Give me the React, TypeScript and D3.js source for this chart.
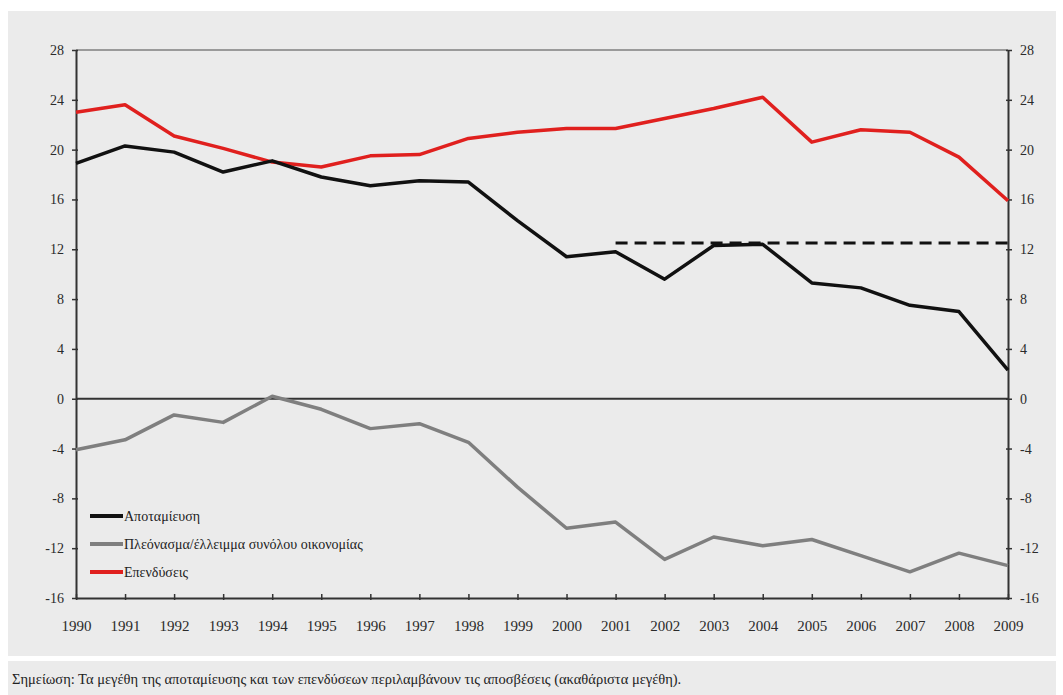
import React, { useEffect, useRef } from 'react';
import * as d3 from 'd3';

const years = [1990, 1991, 1992, 1993, 1994, 1995, 1996, 1997, 1998, 1999, 2000, 2001, 2002, 2003, 2004, 2005, 2006, 2007, 2008, 2009];

// Αποταμίευση (black)
const savings = [18.9, 20.3, 19.8, 18.2, 19.1, 17.8, 17.1, 17.5, 17.4, 14.3, 11.4, 11.8, 9.6, 12.3, 12.4, 9.3, 8.9, 7.5, 7.0, 2.3];
// Επενδύσεις (red)
const investment = [23.0, 23.6, 21.1, 20.1, 19.0, 18.6, 19.5, 19.6, 20.9, 21.4, 21.7, 21.7, 22.5, 23.3, 24.2, 20.6, 21.6, 21.4, 19.4, 15.9];
// Πλεόνασμα/έλλειμμα συνόλου οικονομίας (gray)
const balance = [-4.1, -3.3, -1.3, -1.9, 0.2, -0.85, -2.4, -2.0, -3.5, -7.1, -10.4, -9.9, -12.9, -11.1, -11.8, -11.3, -12.6, -13.9, -12.4, -13.4];

// dashed reference level (2001–2009)
const refYears = [2001, 2009];
const refValue = 12.5;

const yTicks = [28, 24, 20, 16, 12, 8, 4, 0, -4, -8, -12, -16];

const legendItems = [
  { label: 'Αποταμίευση', color: '#111111' },
  { label: 'Πλεόνασμα/έλλειμμα συνόλου οικονομίας', color: '#7f7f7f' },
  { label: 'Επενδύσεις', color: '#e0201e' },
];

const noteText = 'Σημείωση: Τα μεγέθη της αποταμίευσης και των επενδύσεων περιλαμβάνουν τις αποσβέσεις (ακαθάριστα μεγέθη).';

const W = 1063;
const H = 695;
const FONT = "'Liberation Serif', 'Times New Roman', 'DejaVu Serif', serif";

export default function App() {
  const svgRef = useRef<SVGSVGElement>(null);

  useEffect(() => {
    const svg = d3.select(svgRef.current);
    svg.selectAll('*').remove();

    const left = 76, right = 1008, top = 50, bottom = 598;
    const x = d3.scaleLinear().domain([1990, 2009]).range([left, right]);
    const y = d3.scaleLinear().domain([-16, 28]).range([bottom, top]);
    const fmt = (d: d3.NumberValue) => String(d);

    // panels
    svg.append('rect').attr('width', W).attr('height', H).attr('fill', '#ffffff');
    svg.append('rect').attr('x', 8).attr('y', 11).attr('width', 1048).attr('height', 645).attr('fill', '#ebebeb');
    svg.append('rect').attr('x', 8).attr('y', 661).attr('width', 1048).attr('height', 34).attr('fill', '#ebebeb');

    // top border
    svg.append('line')
      .attr('x1', left).attr('x2', right).attr('y1', top).attr('y2', top)
      .attr('stroke', '#9a9a9a').attr('stroke-width', 2);

    // zero line
    svg.append('line')
      .attr('x1', left).attr('x2', right).attr('y1', y(0)).attr('y2', y(0))
      .attr('stroke', '#333').attr('stroke-width', 2);

    const styleAxis = (g: d3.Selection<SVGGElement, unknown, null, undefined>) => {
      g.attr('font-family', null).attr('font-size', null);
      g.select('.domain').attr('stroke', '#333').attr('stroke-width', 2);
      g.selectAll('.tick line').attr('stroke', '#333').attr('stroke-width', 1.5);
      g.selectAll('.tick text').attr('fill', '#2a2a2a').style('font-family', FONT).style('font-size', '14px');
    };

    const leftAxis = svg.append('g')
      .attr('transform', `translate(${left},0)`)
      .call(d3.axisLeft(y).tickValues(yTicks).tickSize(5).tickPadding(7).tickSizeOuter(0).tickFormat(fmt));
    leftAxis.selectAll('.tick line').attr('x2', -4).attr('x1', 2);
    styleAxis(leftAxis);

    const rightAxis = svg.append('g')
      .attr('transform', `translate(${right},0)`)
      .call(d3.axisRight(y).tickValues(yTicks).tickSize(5).tickPadding(7).tickSizeOuter(0).tickFormat(fmt));
    rightAxis.selectAll('.tick line').attr('x1', -2).attr('x2', 4);
    styleAxis(rightAxis);

    const bottomAxis = svg.append('g')
      .attr('transform', `translate(0,${bottom})`)
      .call(d3.axisBottom(x).tickValues(years).tickSize(5).tickPadding(17).tickSizeOuter(0).tickFormat(fmt));
    bottomAxis.selectAll('.tick line').attr('y1', -4).attr('y2', 2);
    styleAxis(bottomAxis);
    bottomAxis.selectAll('.tick text').style('font-size', '15px');

    const line = d3.line<number>()
      .x((_, i) => x(years[i]))
      .y((d) => y(d));

    svg.append('path').datum(balance).attr('d', line)
      .attr('fill', 'none').attr('stroke', '#7f7f7f').attr('stroke-width', 3.5).attr('stroke-linejoin', 'round');
    svg.append('path').datum(investment).attr('d', line)
      .attr('fill', 'none').attr('stroke', '#e0201e').attr('stroke-width', 3.5).attr('stroke-linejoin', 'round');
    svg.append('path').datum(savings).attr('d', line)
      .attr('fill', 'none').attr('stroke', '#111111').attr('stroke-width', 3.5).attr('stroke-linejoin', 'round');

    // dashed level
    svg.append('line')
      .attr('x1', x(refYears[0])).attr('x2', x(refYears[1]))
      .attr('y1', y(refValue)).attr('y2', y(refValue))
      .attr('stroke', '#111').attr('stroke-width', 3).attr('stroke-dasharray', '12,7');

    // legend
    const legend = svg.append('g').attr('transform', 'translate(90,516)');
    legendItems.forEach((item, i) => {
      const g = legend.append('g').attr('transform', `translate(0,${i * 28})`);
      g.append('line').attr('x1', 0).attr('x2', 33).attr('y1', 0).attr('y2', 0)
        .attr('stroke', item.color).attr('stroke-width', 4);
      g.append('text').attr('x', 34).attr('y', 0).attr('dy', '0.35em')
        .style('font-family', FONT).style('font-size', '14px').attr('fill', '#222')
        .text(item.label);
    });

    // note
    svg.append('text')
      .attr('x', 12).attr('y', 684)
      .style('font-family', FONT).style('font-size', '14.5px').attr('fill', '#222')
      .text(noteText);
  }, []);

  return (
    <svg
      ref={svgRef}
      width={W}
      height={H}
      style={{ position: 'absolute', left: 0, top: 0, display: 'block' }}
    />
  );
}
